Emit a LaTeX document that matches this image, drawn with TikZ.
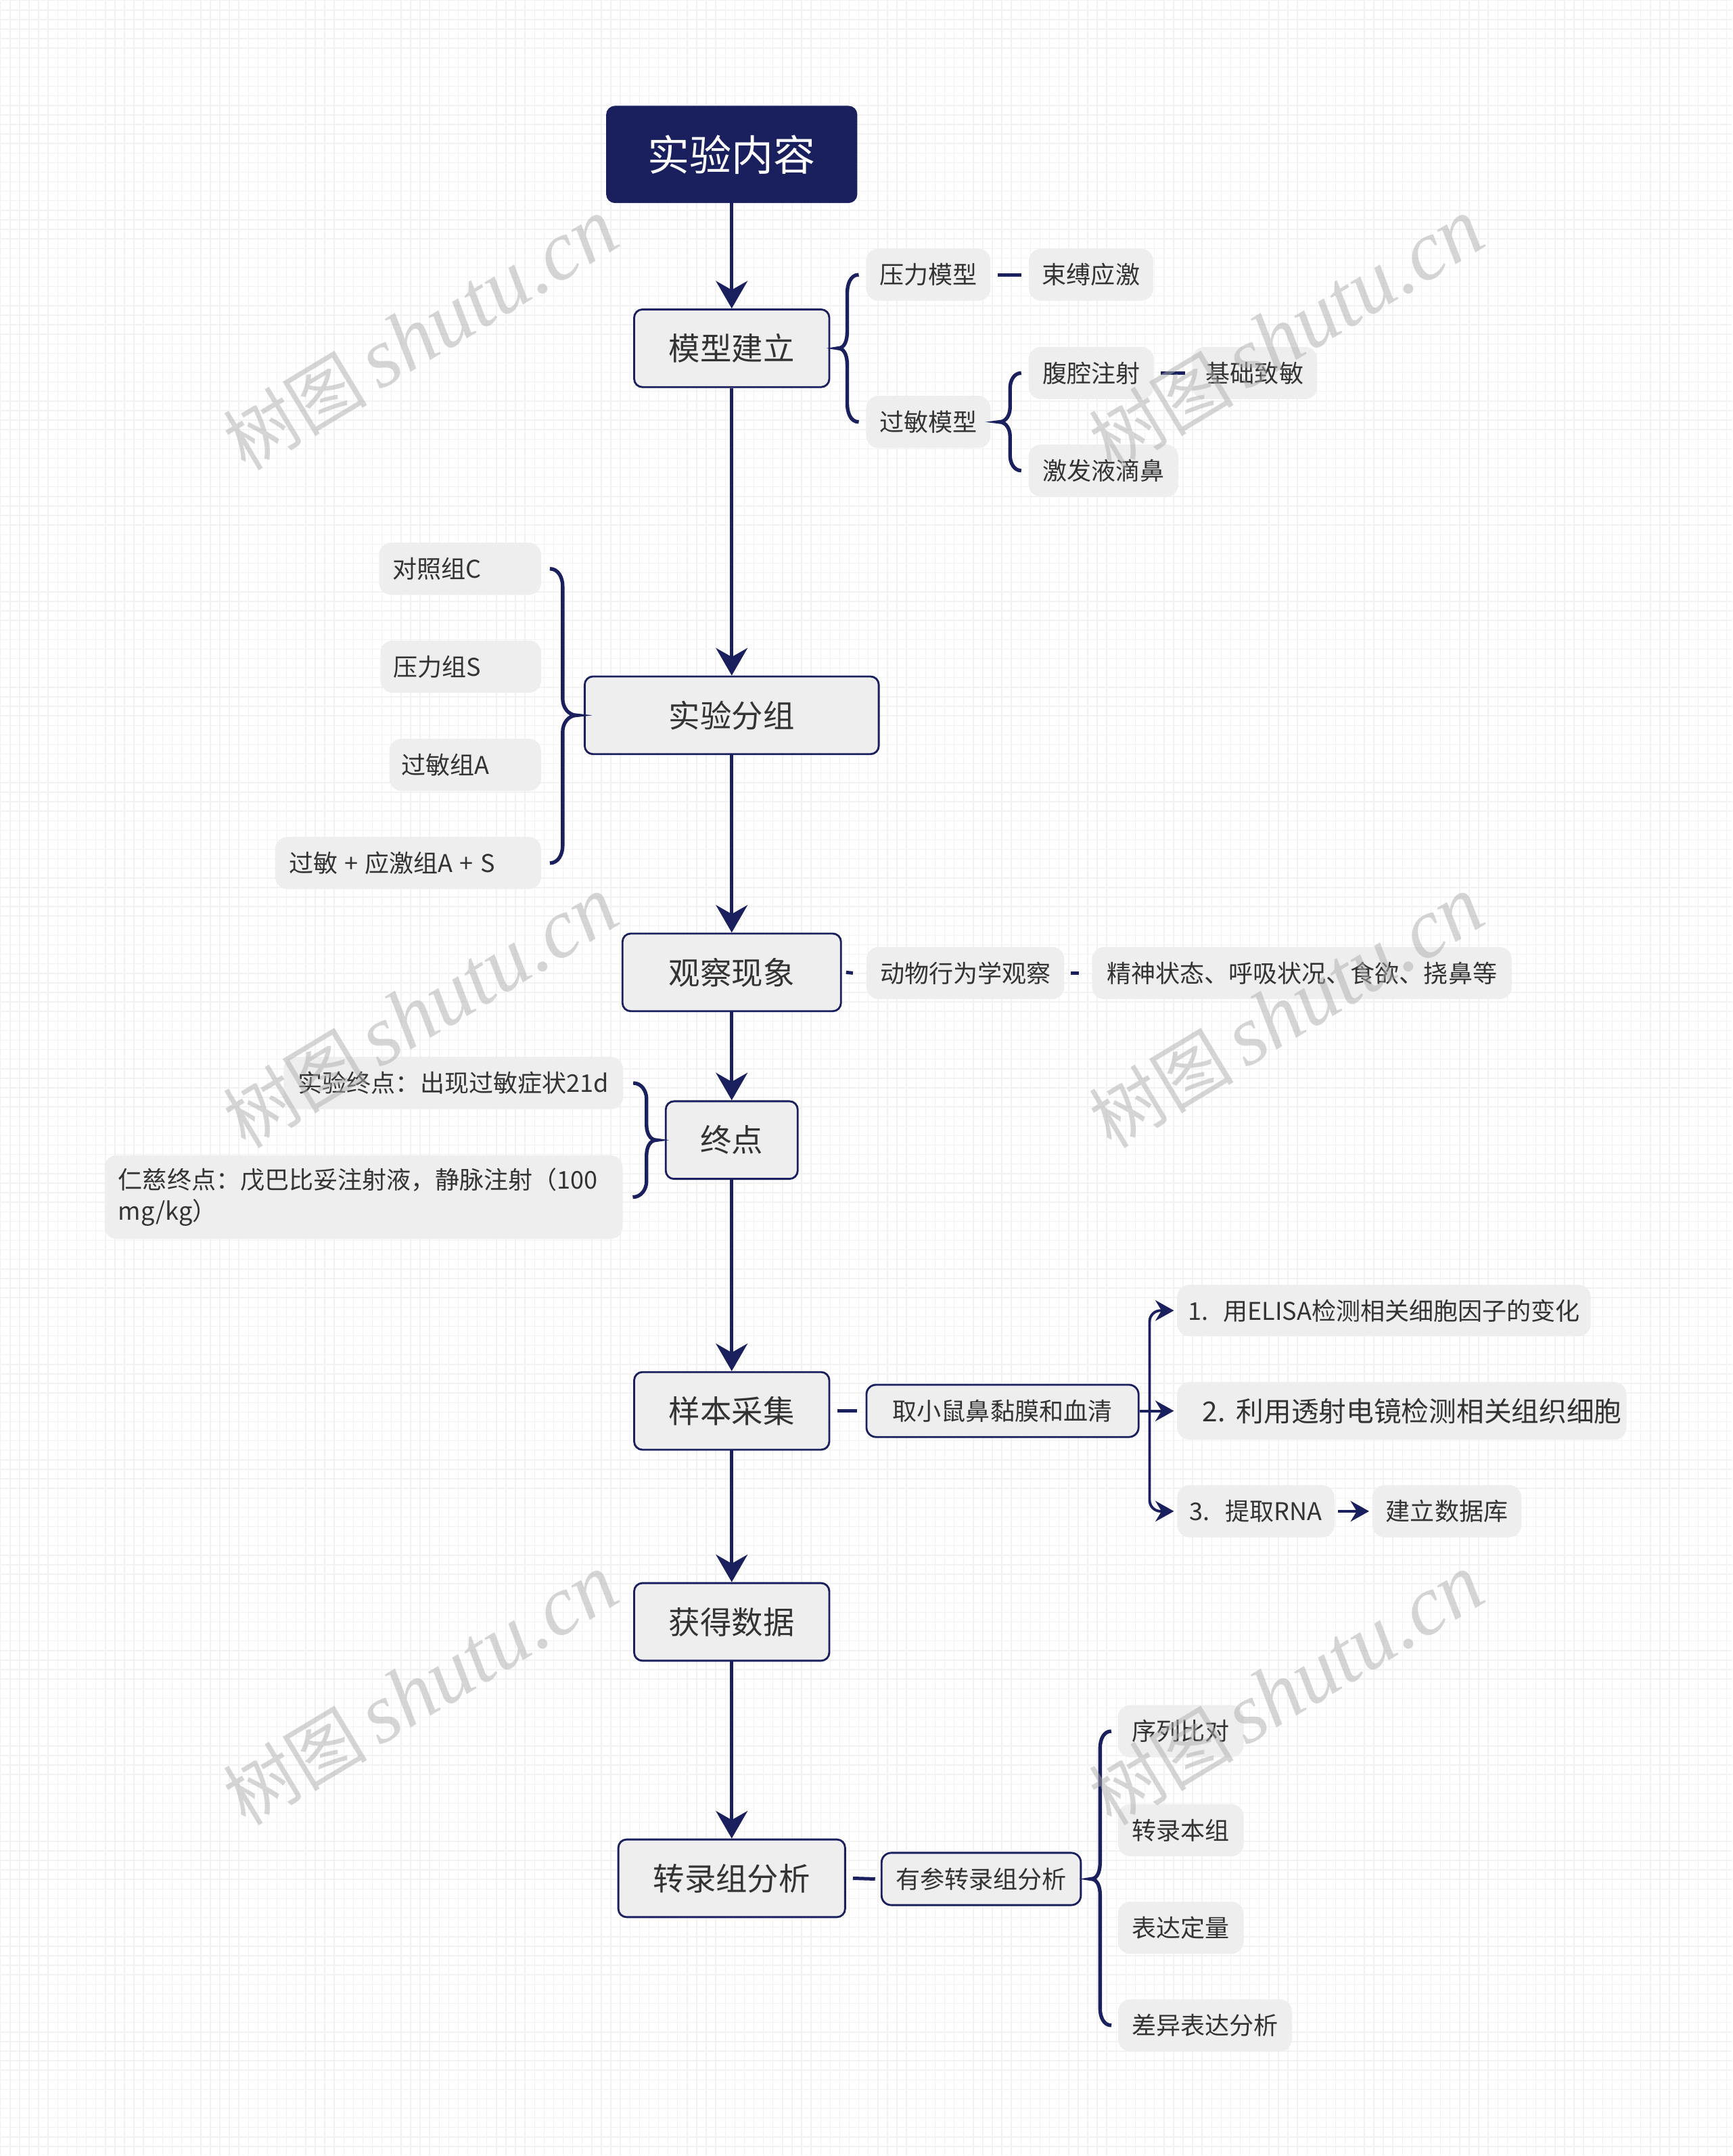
\documentclass[tikz,border=0pt]{standalone}
\usepackage{fontspec}
\setmainfont{Noto Sans CJK SC}
\newfontfamily\wmfont{Liberation Serif}
\usepackage{tikz}
\usetikzlibrary{arrows.meta,positioning}
\definecolor{navy}{RGB}{26,31,94}
\definecolor{boxgray}{RGB}{238,238,238}
\definecolor{textgray}{RGB}{51,51,51}
\tikzset{
    % 主干箭头
    navyarrow/.style={
        line width=1.4pt,
        navy,
        ->,
        >={Stealth[length=0.4cm, width=0.46cm, inset=0.13cm]}
    },
    % 分支箭头
    brancharrow/.style={
        line width=1.1pt,
        navy,
        ->,
        rounded corners=0.16cm,
        >={Stealth[length=0.27cm, width=0.3cm, inset=0.09cm]}
    },
    braceline/.style={line width=1.5pt, navy},
    dashline/.style={line width=1.4pt, navy},
    gridline/.style={line width=0.4pt, black!5},
    rootbox/.style={
        fill=navy, draw=navy, rounded corners=0.12cm, text=white,
        font=\fontsize{17.4pt}{20pt}\selectfont, inner sep=0pt,
        minimum width=3.64cm, minimum height=1.4cm
    },
    mainbox/.style={
        draw=navy, line width=0.8pt, fill=boxgray, rounded corners=0.12cm,
        text=textgray, font=\fontsize{13pt}{16pt}\selectfont, inner sep=0pt,
        minimum height=1.13cm
    },
    leafbox/.style={
        fill=boxgray, rounded corners=0.18cm, text=textgray,
        font=\fontsize{10.1pt}{12.8pt}\selectfont, inner sep=0pt,
        minimum height=0.76cm
    },
    linebox/.style={
        leafbox, draw=navy, line width=0.8pt, rounded corners=0.14cm
    },
    watermark/.style={
        anchor=base west, rotate=31, inner sep=0pt, text=black!32, opacity=0.5,
        font=\fontsize{30pt}{30pt}\selectfont
    }
}

\begin{document}
\begin{tikzpicture}[x=0.02cm, y=-0.02cm]
	% 背景网格
	\fill[white] (0,0) rectangle (1260,1568);
	\draw[gridline] (0cm,-31.36cm) grid[step=0.1388cm] (25.2cm,0cm);
	\useasboundingbox (0,0) rectangle (1260,1568);
	
	% 主干节点
	\node[rootbox] (syny) at (532,112) {实验内容};
	\node[mainbox, minimum width=2.84cm] (mxjl) at (532,253) {模型建立};
	\node[mainbox, minimum width=4.28cm] (syfz) at (532,520) {实验分组};
	\node[mainbox, minimum width=3.18cm] (gcxx) at (532,707) {观察现象};
	\node[mainbox, minimum width=1.92cm] (zd) at (532,829) {终点};
	\node[mainbox, minimum width=2.84cm] (ybcj) at (532,1026) {样本采集};
	\node[mainbox, minimum width=2.84cm] (hdsj) at (532,1179.5) {获得数据};
	\node[mainbox, minimum width=3.3cm] (zlzfx) at (532,1366) {转录组分析};
	
	\foreach \a/\b in {syny/mxjl, mxjl/syfz, syfz/gcxx, gcxx/zd, zd/ybcj, ybcj/hdsj, hdsj/zlzfx}
		\draw[navyarrow] (\a) -- (\b);
	
	% 模型建立
	\node[leafbox, minimum width=1.81cm] (ylmx) at (675,199.5) {压力模型};
	\node[leafbox, minimum width=1.81cm] (sfyj) at (793.4,199.5) {束缚应激};
	\node[leafbox, minimum width=1.81cm] (gmmx) at (675,306.6) {过敏模型};
	\node[leafbox, minimum width=1.82cm] (fqzs) at (793.5,271) {腹腔注射};
	\node[leafbox, minimum width=1.82cm] (jczm) at (912.5,271) {基础致敏};
	\node[leafbox, minimum width=2.18cm] (jfyd) at (802.5,342) {激发液滴鼻};
	
	\draw[braceline] ([xshift=-0.1cm]ylmx.west) to[out=180,in=90] (616,213) -- (616,241)
		to[out=-90,in=0] ([xshift=0.11cm]mxjl.east) to[out=0,in=90] (616,265) -- (616,293)
		to[out=-90,in=180] ([xshift=-0.1cm]gmmx.west);
	\draw[braceline] ([xshift=-0.1cm]fqzs.west) to[out=180,in=90] (734.5,282) -- (734.5,296)
		to[out=-90,in=0] ([xshift=0.12cm]gmmx.east) to[out=0,in=90] (734.5,317) -- (734.5,331)
		to[out=-90,in=180] ([xshift=-0.1cm]jfyd.west);
	\draw[dashline] ([xshift=0.1cm]ylmx.east) -- ([xshift=-0.1cm]sfyj.west);
	\draw[dashline] ([xshift=0.1cm]fqzs.east) -- ([xshift=-0.1cm]jczm.west);
	
	% 实验分组
	\node[leafbox, anchor=east, text width=1.96cm, align=left, inner xsep=0.2cm] (dzz) at (393.7,413.4) {对照组C};
	\node[leafbox, anchor=east, text width=1.96cm, align=left, inner xsep=0.19cm] (ylz) at (393.7,484.6) {压力组S};
	\node[leafbox, anchor=east, text width=1.85cm, align=left, inner xsep=0.18cm] (gmz) at (393.7,556) {过敏组A};
	\node[leafbox, anchor=east, text width=3.47cm, align=left, inner xsep=0.2cm] (gmyj) at (393.7,627.5) {过敏\hspace{0.1cm}+\hspace{0.1cm}应激组A\hspace{0.1cm}+\hspace{0.1cm}S};
	
	\draw[braceline] ([xshift=0.12cm]dzz.east) to[out=0,in=90] (409,426) -- (409,508)
		to[out=-90,in=180] ([xshift=-0.1cm]syfz.west) to[out=180,in=90] (409,532) -- (409,615)
		to[out=-90,in=0] ([xshift=0.12cm]gmyj.east);
	
	% 观察现象
	\node[leafbox, minimum width=2.88cm] (dwxw) at (702,707.5) {动物行为学观察};
	\node[leafbox, minimum width=6.11cm] (jszt) at (946.8,707.5) {精神状态、呼吸状况、食欲、挠鼻等};
	\draw[dashline] ([xshift=0.06cm]gcxx.east) -- ([xshift=-0.19cm]dwxw.west);
	\draw[dashline] ([xshift=0.09cm]dwxw.east) -- ([xshift=-0.18cm]jszt.west);
	
	% 终点
	\node[leafbox, minimum width=4.94cm] (syzd) at (329.5,787.5) {实验终点：出现过敏症状21d};
	\node[leafbox, anchor=east, text width=7.14cm, align=left, inner xsep=0.2cm, minimum height=1.22cm] (rczd) at (453,870.5) {仁慈终点：戊巴比妥注射液，静脉注射（100\\mg/kg）};
	
	\draw[braceline] ([xshift=0.14cm]syzd.east) to[out=0,in=90] (470,799) -- (470,818)
		to[out=-90,in=180] ([xshift=-0.12cm]zd.west) to[out=180,in=90] (470,840) -- (470,859)
		to[out=-90,in=0] ([xshift=0.14cm]rczd.east);
	
	% 样本采集
	\node[linebox, minimum width=3.96cm] (qxs) at (729,1026) {取小鼠鼻黏膜和血清};
	\node[leafbox, minimum width=6.02cm, minimum height=0.75cm] (jc1) at (1006.5,953) {1.\hspace{0.22cm}用ELISA检测相关细胞因子的变化};
	\node[leafbox, minimum width=6.54cm, minimum height=0.84cm, font=\fontsize{11.4pt}{14pt}\selectfont] (jc2) at (1019.5,1026) {\hspace{0.3cm}2.\hspace{0.16cm}利用透射电镜检测相关组织细胞};
	\node[leafbox, minimum width=2.29cm] (jc3) at (913.3,1099) {3.\hspace{0.22cm}提取RNA};
	\node[leafbox, minimum width=2.17cm] (sjk) at (1052.3,1099) {建立数据库};
	\coordinate (fork) at (836,1026);
	
	\draw[dashline] ([xshift=0.1cm]ybcj.east) -- ([xshift=-0.12cm]qxs.west);
	\draw[brancharrow, shorten >=0.04cm] (qxs) -- (jc2);
	\draw[brancharrow, shorten >=0.04cm] (fork) |- (jc1);
	\draw[brancharrow, shorten >=0.04cm] (fork) |- (jc3);
	\draw[brancharrow, shorten <=0.04cm, shorten >=0.04cm] (jc3) -- (sjk);
	
	% 转录组分析
	\node[linebox, minimum width=2.9cm] (yczl) at (713.5,1366.5) {有参转录组分析};
	\node[leafbox, minimum width=1.83cm] (xlbd) at (858.7,1259) {序列比对};
	\node[leafbox, minimum width=1.83cm] (zlbz) at (858.7,1331) {转录本组};
	\node[leafbox, minimum width=1.83cm] (bddl) at (858.7,1402) {表达定量};
	\node[leafbox, minimum width=2.53cm] (cybd) at (876.3,1473) {差异表达分析};
	
	\draw[dashline] ([xshift=0.1cm]zlzfx.east) -- ([xshift=-0.08cm]yczl.west);
	\draw[braceline] ([xshift=-0.09cm]xlbd.west) to[out=180,in=90] (800,1271) -- (800,1354)
		to[out=-90,in=0] ([xshift=0.13cm]yczl.east) to[out=0,in=90] (800,1378) -- (800,1461)
		to[out=-90,in=180] ([xshift=-0.09cm]cybd.west);
	
	% 水印
	\foreach \wx in {178,808}
		\foreach \wy in {343,836,1329}
			\node[watermark] (wm\wx\wy) at (\wx,\wy) {树图\,{\wmfont\itshape\fontsize{35pt}{35pt}\selectfont shutu.cn}};
\end{tikzpicture}
\end{document}
